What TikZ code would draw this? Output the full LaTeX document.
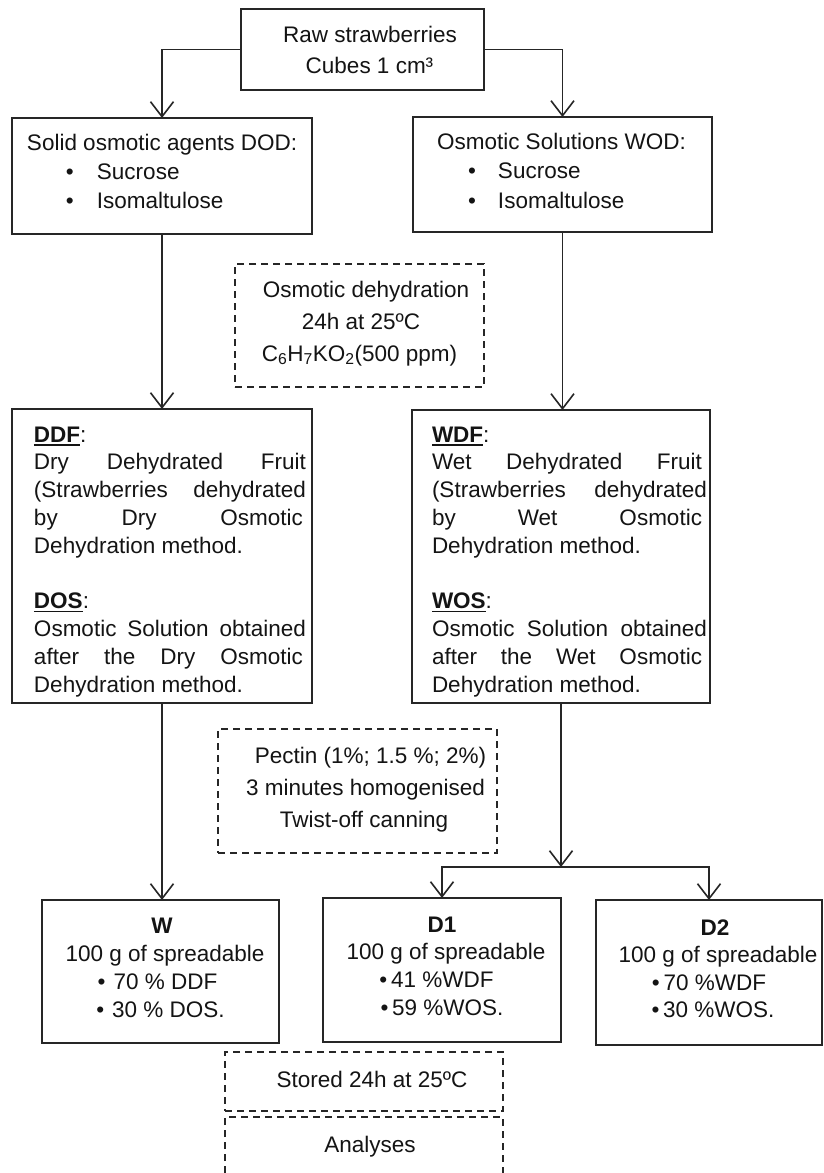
\documentclass[tikz,border=0pt]{standalone}
\usepackage{fontspec}
\setmainfont{Liberation Sans}
\usetikzlibrary{arrows.meta}

% #1 width, #2 height, #3 baselineskip, #4 first baseline from top, #5 body
\newcommand\boxbody[5]{\parbox[c][#2][t]{#1}{\fontsize{22.5pt}{#3}\selectfont
  \everypar{\strut}\vspace*{\dimexpr #4-\ht\strutbox\relax}#5}}
\newcommand\uline[1]{\setbox0\hbox{#1}\rlap{\rule[-3.5pt]{\wd0}{1.4pt}}\box0}
\newcommand\jl[1]{\makebox[272pt][s]{#1}}
\newcommand\jr[1]{\makebox[275pt][s]{#1}}

\tikzset{
  boxnode/.style={draw=black!85, line width=1.5pt, inner sep=0pt, outer sep=0pt,
    text=black!92, anchor=north west},
  dashnode/.style={boxnode, line width=1.3pt, dash pattern=on 7pt off 5pt},
  plainnode/.style={inner sep=0pt, outer sep=0pt, text=black!92, anchor=north west},
  conn/.style={draw=black!85, line width=1.6pt,
    -{Straight Barb[length=15pt,width=23pt]}},
}

\begin{document}
\begin{tikzpicture}[x=1pt,y=-1pt]
\useasboundingbox (0,0) rectangle (824,1173);
\fill[white] (0,0) rectangle (824,1173);

\node[boxnode] (raw) at (241,9) {\boxbody{243pt}{81pt}{31pt}{33pt}{\centering
  \hspace*{15pt}Raw strawberries\par
  \hspace*{14pt}Cubes 1 cm³\par}};

\node[boxnode] (dod) at (12,118) {\boxbody{300pt}{116pt}{29pt}{32pt}{\raggedright
  \hspace*{15pt}Solid osmotic agents DOD:\par
  \hspace*{15pt}\makebox[70pt][l]{\hspace{39pt}•}Sucrose\par
  \hspace*{15pt}\makebox[70pt][l]{\hspace{39pt}•}Isomaltulose\par}};

\node[boxnode] (wod) at (413,117) {\boxbody{299pt}{115pt}{29.5pt}{32pt}{\raggedright
  \hspace*{24pt}Osmotic Solutions WOD:\par
  \hspace*{24pt}\makebox[61pt][l]{\hspace{31pt}•}Sucrose\par
  \hspace*{24pt}\makebox[61pt][l]{\hspace{31pt}•}Isomaltulose\par}};

\node[dashnode] (od) at (235,264) {\boxbody{249pt}{123pt}{32pt}{33pt}{\centering
  \hspace*{13pt}Osmotic dehydration\par
  \hspace*{3pt}24h at 25ºC\par
  C\textsubscript{6}H\textsubscript{7}KO\textsubscript{2}(500 ppm)\par}};

\node[boxnode] (ddf) at (12,409) {\boxbody{300pt}{294pt}{27.8pt}{33pt}{\raggedright
  \hspace*{22pt}\uline{\textbf{DDF}}:\par
  \hspace*{22pt}\jl{Dry Dehydrated Fruit}\par
  \hspace*{22pt}\jl{(Strawberries dehydrated}\par
  \hspace*{22pt}\makebox[269pt][s]{by Dry Osmotic}\par
  \hspace*{22pt}Dehydration method.\par
  \mbox{}\par
  \hspace*{22pt}\uline{\textbf{DOS}}:\par
  \hspace*{22pt}\jl{Osmotic Solution obtained}\par
  \hspace*{22pt}\makebox[269pt][s]{after the Dry Osmotic}\par
  \hspace*{22pt}Dehydration method.\par}};

\node[boxnode] (wdf) at (412,410) {\boxbody{298pt}{293pt}{27.8pt}{32pt}{\raggedright
  \hspace*{20pt}\uline{\textbf{WDF}}:\par
  \hspace*{20pt}\makebox[270pt][s]{Wet Dehydrated Fruit}\par
  \hspace*{20pt}\jr{(Strawberries dehydrated}\par
  \hspace*{20pt}\makebox[270pt][s]{by Wet Osmotic}\par
  \hspace*{20pt}Dehydration method.\par
  \mbox{}\par
  \hspace*{20pt}\uline{\textbf{WOS}}:\par
  \hspace*{20pt}\jr{Osmotic Solution obtained}\par
  \hspace*{20pt}\makebox[270pt][s]{after the Wet Osmotic}\par
  \hspace*{20pt}Dehydration method.\par}};

\node[dashnode] (pec) at (218,729) {\boxbody{279pt}{124pt}{32pt}{34pt}{\centering
  \hspace*{26pt}Pectin (1\%; 1.5 \%; 2\%)\par
  \hspace*{16pt}3 minutes homogenised\par
  \hspace*{13pt}Twist-off canning\par}};

\node[boxnode] (w) at (42,900) {\boxbody{237pt}{143pt}{28pt}{33pt}{\centering
  \hspace*{3pt}\textbf{W}\par
  \hspace*{9pt}100 g of spreadable\par
  \hspace*{-6pt}•\hspace{8pt}70 \% DDF\par
  •\hspace{8pt}30 \% DOS.\par}};

\node[boxnode] (d1) at (323,898) {\boxbody{238pt}{144pt}{27.7pt}{34pt}{\centering
  \textbf{D1}\par
  \hspace*{8pt}100 g of spreadable\par
  \hspace*{-11pt}•\,41 \%WDF\par
  •\,59 \%WOS.\par}};

\node[boxnode] (d2) at (596,900) {\boxbody{226pt}{145pt}{27.5pt}{35pt}{\centering
  \hspace*{12pt}\textbf{D2}\par
  \hspace*{18pt}100 g of spreadable\par
  •\,70 \%WDF\par
  \hspace*{8pt}•\,30 \%WOS.\par}};

\node[dashnode] (st) at (225,1052) {\boxbody{278pt}{59pt}{28pt}{35pt}{\centering
  \hspace*{16pt}Stored 24h at 25ºC\par}};

\node[plainnode] (an) at (225,1117) {\boxbody{278pt}{56pt}{28pt}{35pt}{\centering
  \hspace*{12pt}Analyses\par}};
\draw[draw=black!85, line width=1.3pt, dash pattern=on 7pt off 5pt]
  (an.south west) -- (an.north west) -- (an.north east) -- (an.south east);

\coordinate (split) at (561,867);

\draw[conn] (raw.west) -| (dod.north);
\draw[conn] (raw.east) -| (wod.north);
\draw[conn] (dod.south) -- (ddf.north);
\draw[conn] (wod.south) -- (wod.south |- wdf.north);
\draw[conn] (ddf.south) -- (ddf.south |- w.north);
\draw[conn] (wdf.south) -- (split);
\draw[conn] (split) -| (d1.north);
\draw[conn] (split) -| (d2.north);
\end{tikzpicture}
\end{document}
